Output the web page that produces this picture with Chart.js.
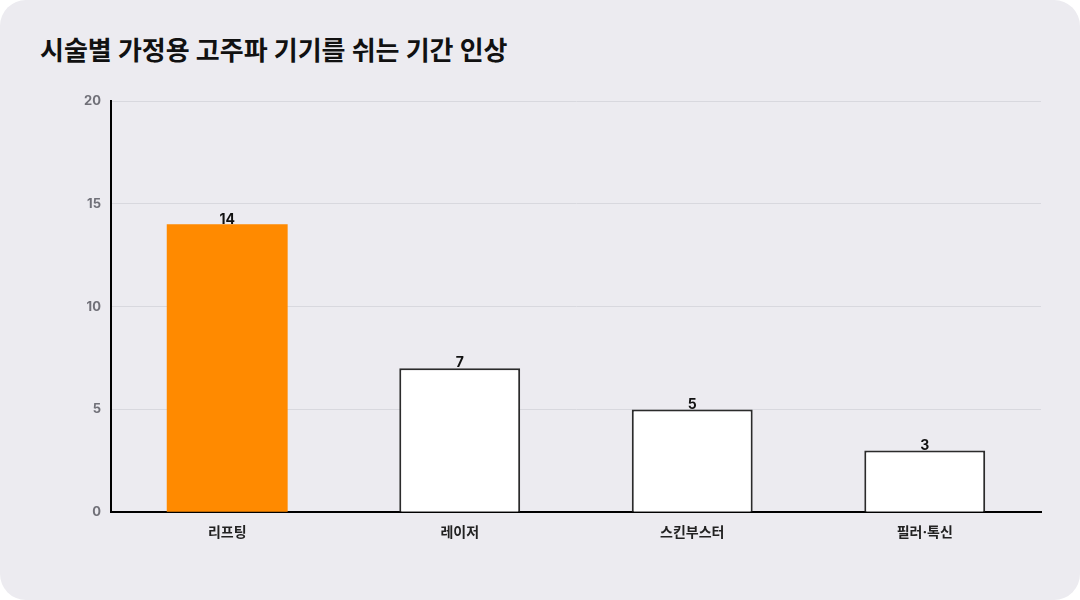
<!DOCTYPE html>
<html>
<head>
<meta charset="utf-8">
<script src="https://cdn.jsdelivr.net/npm/chart.js@4/dist/chart.umd.min.js"></script>
<style>
  html, body { margin: 0; padding: 0; background: #ffffff; }
  .card {
    position: relative;
    width: 1080px; height: 600px;
    background: #ecebf0;
    border-radius: 26px;
    overflow: hidden;
  }
  .title {
    position: absolute; left: 40px; top: 30px;
    font-family: Inter, "Noto Sans CJK KR", sans-serif;
    font-weight: 700; font-size: 26px; color: #111;
    letter-spacing: 0;
  }
  #myChart { position: absolute; left: 0; top: 0; }
</style>
</head>
<body>
<div class="card">
  <div class="title">시술별 가정용 고주파 기기를 쉬는 기간 인상</div>
  <canvas id="myChart" width="1080" height="600"></canvas>
</div>
<script>
const categories = ['리프팅', '레이저', '스킨부스터', '필러·톡신']
const values = [14, 7, 5, 3]
const yTicks = [0, 5, 10, 15, 20]

const fontFamily = 'Inter, "Noto Sans CJK KR", sans-serif'

// number above each bar
const barLabels = {
    id: 'barLabels',
    afterDatasetsDraw(chart) {
        const ctx = chart.ctx
        const meta = chart.getDatasetMeta(0)
        ctx.save()
        ctx.font = '700 14px ' + fontFamily
        ctx.fillStyle = '#111'
        ctx.textAlign = 'center'
        ctx.textBaseline = 'bottom'
        meta.data.forEach((bar, i) => {
            ctx.fillText(values[i], bar.x, bar.y + 2)
        })
        ctx.restore()
    }
}

const ctx = document.getElementById('myChart')
const chart = new Chart(ctx, {
    type: 'bar',
    data: {
        labels: categories,
        datasets: [{
            data: values,
            backgroundColor: ['#ff8a00', '#ffffff', '#ffffff', '#ffffff'],
            borderColor: ['#ff8a00', '#2b2b2b', '#2b2b2b', '#2b2b2b'],
            borderWidth: [0, 2, 2, 2],
            barPercentage: 0.52,
            categoryPercentage: 1
        }]
    },
    options: {
        responsive: false,
        animation: false,
        layout: {
            padding: { left: 74, right: 39, top: 101, bottom: 55 }
        },
        plugins: {
            legend: { display: false },
            tooltip: { enabled: false }
        },
        scales: {
            x: {
                grid: { display: false },
                border: { color: '#000', width: 2 },
                ticks: {
                    color: '#222',
                    padding: 4,
                    font: { family: fontFamily, size: 14, weight: '700' }
                }
            },
            y: {
                min: yTicks[0],
                max: yTicks[yTicks.length - 1],
                afterBuildTicks: axis => {
                    axis.ticks = yTicks.map(v => ({ value: v }))
                },
                grid: { color: '#d8d8de', drawTicks: false },
                border: { color: '#000', width: 2 },
                ticks: {
                    color: '#707078',
                    padding: 10,
                    font: { family: fontFamily, size: 13, weight: '700' }
                }
            }
        }
    },
    plugins: [barLabels]
})
</script>
</body>
</html>
